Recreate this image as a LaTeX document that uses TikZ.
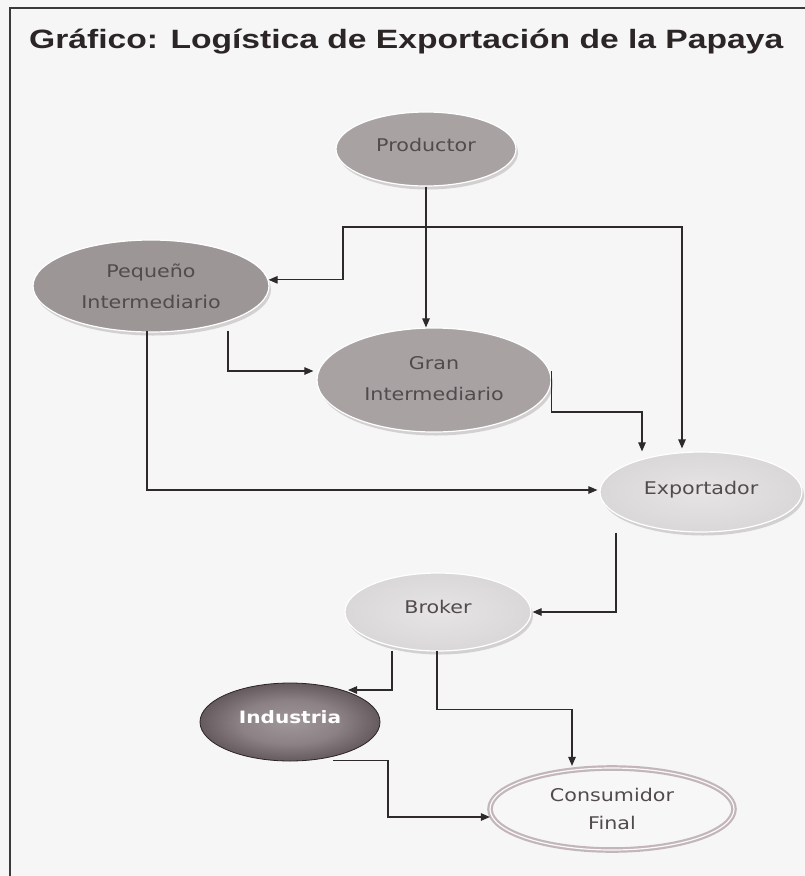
\documentclass[tikz,border=0pt]{standalone}
\usepackage{fontspec}
\usepackage{graphicx}
\setmainfont{DejaVu Sans}
\newfontfamily\titlefont{Liberation Sans}
\usetikzlibrary{arrows.meta,shapes.geometric,calc,shadows}
\definecolor{bgcol}{HTML}{F6F6F6}
\definecolor{framecol}{HTML}{3A3A3A}
\definecolor{titlecol}{HTML}{2B2526}
\definecolor{gfill}{HTML}{A8A2A3}
\definecolor{gdark}{HTML}{9D9697}
\definecolor{rimcol}{HTML}{D3D0D1}
\definecolor{ringcol}{HTML}{C3B6BA}
\definecolor{txtcol}{HTML}{524B4D}
\definecolor{linecol}{HTML}{2E2A2B}
\definecolor{lsA}{HTML}{E6E4E5}
\definecolor{lsB}{HTML}{DEDBDC}
\definecolor{lsC}{HTML}{D4D1D2}
\definecolor{lsD}{HTML}{C6C2C3}
\definecolor{isA}{HTML}{A0979A}
\definecolor{isB}{HTML}{8C8285}
\definecolor{isC}{HTML}{5E5457}
\definecolor{isD}{HTML}{3A3134}
\definecolor{isE}{HTML}{2C2427}
\pgfdeclareradialshading{lightshade}{\pgfpoint{0bp}{0bp}}{%
  color(0bp)=(lsA); color(18bp)=(lsB); color(36bp)=(lsC); color(50bp)=(lsD)}
\pgfdeclareradialshading{indshade}{\pgfpoint{0bp}{0bp}}{%
  color(0bp)=(isA); color(14bp)=(isB); color(27bp)=(isC); color(35bp)=(isD);
  color(50bp)=(isE)}
\newcommand{\ntx}[1]{\scalebox{1.18}[1]{#1}}
\begin{document}
\begin{tikzpicture}[x=1pt,y=-1pt,
  base/.style={ellipse, inner sep=0pt, align=center, text=txtcol,
    font=\fontsize{17.5}{31}\selectfont},
  grayell/.style={base, fill=gfill, draw=white, line width=1.2pt,
    drop shadow={shadow xshift=2pt, shadow yshift=-3.5pt, fill=rimcol, opacity=1}},
  lightell/.style={base, shading=lightshade, draw=white, line width=1.2pt,
    drop shadow={shadow xshift=2pt, shadow yshift=-3.5pt, fill=rimcol, opacity=1}},
  arr/.style={draw=linecol, line width=1.1pt, -{Triangle[length=9pt,width=7.5pt]}},
  arrboth/.style={draw=linecol, line width=1.1pt, {Triangle[length=9pt,width=7.5pt]}-{Triangle[length=9pt,width=7.5pt]}}
]
\useasboundingbox (0,0) rectangle (805,876);
\fill[bgcol] (0,0) rectangle (805,876);
\draw[framecol, line width=1.2pt] (10,876) -- (10,8) -- (805,8);

\node[anchor=base west, text=titlecol, inner sep=0pt] (title) at (29,48)
  {\resizebox{754pt}{\height}{\fontsize{26.5}{30}\titlefont\bfseries Gráfico: Logística de Exportación de la Papaya}};

\node[grayell, minimum width=180pt, minimum height=74pt] (prod) at (426,149)
  {\raisebox{9pt}{\ntx{Productor}}};
\node[grayell, fill=gdark, minimum width=236pt, minimum height=92pt] (peq) at (151,286)
  {\ntx{Pequeño}\\\ntx{Intermediario}};
\node[grayell, minimum width=234pt, minimum height=104pt] (gran) at (434,380)
  {\raisebox{3pt}{\ntx{Gran}}\\\raisebox{3pt}{\ntx{Intermediario}}};
\node[lightell, minimum width=202pt, minimum height=80pt] (exp) at (701,492)
  {\raisebox{9pt}{\ntx{Exportador}}};
\node[lightell, minimum width=186pt, minimum height=78pt] (brok) at (438,612)
  {\raisebox{10pt}{\ntx{Broker}}};
\node[base, shading=indshade, draw=isE, line width=0.8pt,
  minimum width=180pt, minimum height=78pt, text=white,
  font=\fontsize{17}{20}\selectfont\bfseries] (ind) at (290,722)
  {\raisebox{10pt}{\ntx{Industria}}};
\node[base, fill=white!97!black, draw=ringcol, line width=2.2pt, double=white!92!ringcol,
  double distance=1.2pt, minimum width=244pt, minimum height=82pt,
  font=\fontsize{17.5}{28}\selectfont] (cons) at (612,809)
  {\ntx{Consumidor}\\\ntx{Final}};

% connectors
\draw[arr] (prod.south) -- (prod.south |- gran.north);
\draw[arrboth] (peq.3) -| (343,227) -| ($(exp.north)+(-19,-3)$);
\draw[arr] ($(peq.south)+(77,-2)$) |- ($(gran.west)+(-3,-9)$);
\draw[arr] ($(peq.south)+(-4,-2)$) |- ($(exp.west)+(-2,-2)$);
\draw[arr] ($(gran.east)+(0,-9)$) -- ++(0,41) -| ($(exp.north)+(-59,0)$);
\draw[arr] ($(exp.south)+(-85,0)$) |- ($(brok.east)+(1,0)$);
\draw[arr] ($(brok.south)+(-46,-1)$) |- ($(ind.center)+(58,-32)$);
\draw[arr] ($(brok.south)+(-1,-1)$) -- ++(0,59) -| ($(cons.north)+(-40,-1)$);
\draw[arr] ($(ind.south)+(43,-1)$) -- ++(55,0) |- ($(cons.west)+(1,8)$);
\end{tikzpicture}
\end{document}
